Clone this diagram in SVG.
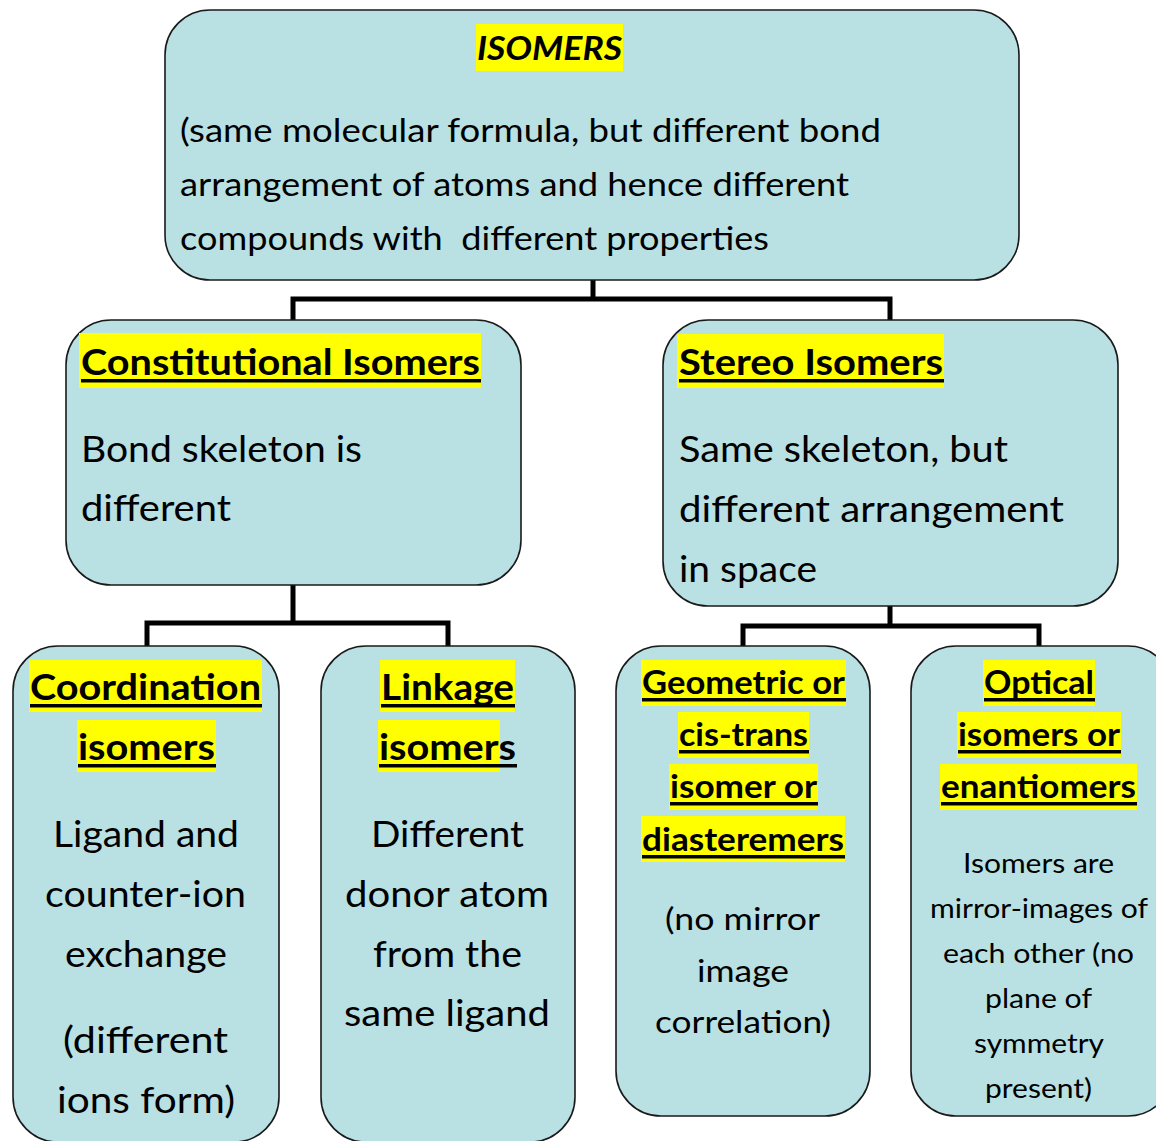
<svg xmlns="http://www.w3.org/2000/svg" width="1156" height="1141" viewBox="0 0 1156 1141">
<style>
.box{fill:#b9e0e3;stroke:#1a1a1a;stroke-width:1.6}
.conn{fill:none;stroke:#000;stroke-width:5}
.hl{fill:#ffff00}
.ul{fill:#000}
text{font-family:Lato,"Open Sans","Liberation Sans",sans-serif;fill:#000}
.b{font-weight:bold}
.bi{font-weight:bold;font-style:italic}
.pre{white-space:pre}
</style>
<rect width="1156" height="1141" fill="#fff"/>
<g id="connectors">
<path class="conn" d="M593,280 V299 M293,320 V299 H890 V320"/>
<path class="conn" d="M293,585 V623 M147,646 V623 H448 V646"/>
<path class="conn" d="M890,606 V626 M743,646 V626 H1039 V646"/>
</g>
<g id="isomers">
<rect class="box" x="165" y="10" width="854" height="270" rx="45"/>
<rect class="hl" x="476" y="24" width="147" height="47"/>
<text class="bi" x="477" y="60" font-size="32" textLength="145" lengthAdjust="spacingAndGlyphs">ISOMERS</text>
<text x="180" y="142" font-size="33" textLength="701" lengthAdjust="spacingAndGlyphs">(same molecular formula, but different bond</text>
<text x="180" y="196" font-size="33" textLength="669" lengthAdjust="spacingAndGlyphs">arrangement of atoms and hence different</text>
<text class="pre" x="180" y="250" font-size="33" textLength="589" lengthAdjust="spacingAndGlyphs" xml:space="preserve">compounds with  different properties</text>
</g>
<g id="constitutional">
<rect class="box" x="66" y="320" width="455" height="265" rx="45"/>
<rect class="hl" x="79" y="333" width="402" height="55"/>
<text class="b" x="81" y="375" font-size="37" textLength="399" lengthAdjust="spacingAndGlyphs">Constitutional Isomers</text>
<rect class="ul" x="81" y="379" width="400" height="3.5"/>
<text x="81" y="462" font-size="37" textLength="281" lengthAdjust="spacingAndGlyphs">Bond skeleton is</text>
<text x="81" y="521" font-size="37" textLength="150" lengthAdjust="spacingAndGlyphs">different</text>
</g>
<g id="stereo">
<rect class="box" x="663" y="320" width="455" height="286" rx="45"/>
<rect class="hl" x="677" y="334" width="267" height="54"/>
<text class="b" x="679" y="375" font-size="37" textLength="264" lengthAdjust="spacingAndGlyphs">Stereo Isomers</text>
<rect class="ul" x="679" y="379" width="265" height="3.5"/>
<text x="679" y="462" font-size="37" textLength="329" lengthAdjust="spacingAndGlyphs">Same skeleton, but</text>
<text x="679" y="522" font-size="37" textLength="385" lengthAdjust="spacingAndGlyphs">different arrangement</text>
<text x="679" y="582" font-size="37" textLength="138" lengthAdjust="spacingAndGlyphs">in space</text>
</g>
<g id="coordination">
<rect class="box" x="13" y="646" width="266" height="496" rx="45"/>
<rect class="hl" x="29" y="660" width="233" height="52"/>
<text class="b" x="30" y="700" font-size="37" textLength="231" lengthAdjust="spacingAndGlyphs">Coordination</text>
<rect class="ul" x="30" y="704" width="232" height="3.5"/>
<rect class="hl" x="77" y="720" width="139" height="52"/>
<text class="b" x="78" y="760" font-size="37" textLength="137" lengthAdjust="spacingAndGlyphs">isomers</text>
<rect class="ul" x="78" y="764" width="138" height="3.5"/>
<text x="53" y="847" font-size="37" textLength="186" lengthAdjust="spacingAndGlyphs">Ligand and</text>
<text x="45" y="907" font-size="37" textLength="201" lengthAdjust="spacingAndGlyphs">counter-ion</text>
<text x="65" y="967" font-size="37" textLength="162" lengthAdjust="spacingAndGlyphs">exchange</text>
<text x="63" y="1053" font-size="37" textLength="165" lengthAdjust="spacingAndGlyphs">(different</text>
<text x="57" y="1113" font-size="37" textLength="178" lengthAdjust="spacingAndGlyphs">ions form)</text>
</g>
<g id="linkage">
<rect class="box" x="321" y="646" width="254" height="496" rx="45"/>
<rect class="hl" x="380" y="660" width="135" height="52"/>
<text class="b" x="381" y="700" font-size="37" textLength="133" lengthAdjust="spacingAndGlyphs">Linkage</text>
<rect class="ul" x="381" y="704" width="134" height="3.5"/>
<rect class="hl" x="378" y="720" width="122" height="52"/>
<text class="b" x="379" y="760" font-size="37" textLength="137" lengthAdjust="spacingAndGlyphs">isomers</text>
<rect class="ul" x="379" y="764" width="138" height="3.5"/>
<text x="371" y="847" font-size="37" textLength="153" lengthAdjust="spacingAndGlyphs">Different</text>
<text x="345" y="907" font-size="37" textLength="204" lengthAdjust="spacingAndGlyphs">donor atom</text>
<text x="373" y="967" font-size="37" textLength="149" lengthAdjust="spacingAndGlyphs">from the</text>
<text x="344" y="1026" font-size="37" textLength="206" lengthAdjust="spacingAndGlyphs">same ligand</text>
</g>
<g id="geometric">
<rect class="box" x="616" y="646" width="254" height="470" rx="45"/>
<rect class="hl" x="641" y="660" width="205" height="46"/>
<text class="b" x="642" y="694" font-size="32" textLength="203" lengthAdjust="spacingAndGlyphs">Geometric or</text>
<rect class="ul" x="642" y="698" width="204" height="3.5"/>
<rect class="hl" x="678" y="712" width="131" height="46"/>
<text class="b" x="679" y="746" font-size="32" textLength="129" lengthAdjust="spacingAndGlyphs">cis-trans</text>
<rect class="ul" x="679" y="750" width="130" height="3.5"/>
<rect class="hl" x="669" y="764" width="149" height="46"/>
<text class="b" x="670" y="798" font-size="32" textLength="147" lengthAdjust="spacingAndGlyphs">isomer or</text>
<rect class="ul" x="670" y="802" width="148" height="3.5"/>
<rect class="hl" x="641" y="816" width="204" height="46"/>
<text class="b" x="642" y="851" font-size="32" textLength="202" lengthAdjust="spacingAndGlyphs">diasteremers</text>
<rect class="ul" x="642" y="855" width="203" height="3.5"/>
<text x="665" y="930" font-size="30" textLength="155" lengthAdjust="spacingAndGlyphs">(no mirror</text>
<text x="697" y="982" font-size="30" textLength="92" lengthAdjust="spacingAndGlyphs">image</text>
<text x="655" y="1033" font-size="30" textLength="176" lengthAdjust="spacingAndGlyphs">correlation)</text>
</g>
<g id="optical">
<rect class="box" x="911" y="646" width="262" height="470" rx="45"/>
<rect class="hl" x="983" y="660" width="112" height="46"/>
<text class="b" x="984" y="694" font-size="32" textLength="110" lengthAdjust="spacingAndGlyphs">Optical</text>
<rect class="ul" x="984" y="698" width="111" height="3.5"/>
<rect class="hl" x="957" y="712" width="164" height="46"/>
<text class="b" x="958" y="746" font-size="32" textLength="162" lengthAdjust="spacingAndGlyphs">isomers or</text>
<rect class="ul" x="958" y="750" width="163" height="3.5"/>
<rect class="hl" x="940" y="764" width="197" height="46"/>
<text class="b" x="941" y="798" font-size="32" textLength="195" lengthAdjust="spacingAndGlyphs">enantiomers</text>
<rect class="ul" x="941" y="802" width="196" height="3.5"/>
<text x="963" y="873" font-size="26" textLength="151" lengthAdjust="spacingAndGlyphs">Isomers are</text>
<text x="930" y="918" font-size="26" textLength="218" lengthAdjust="spacingAndGlyphs">mirror-images of</text>
<text x="943" y="963" font-size="26" textLength="191" lengthAdjust="spacingAndGlyphs">each other (no</text>
<text x="985" y="1008" font-size="26" textLength="107" lengthAdjust="spacingAndGlyphs">plane of</text>
<text x="974" y="1053" font-size="26" textLength="130" lengthAdjust="spacingAndGlyphs">symmetry</text>
<text x="985" y="1098" font-size="26" textLength="107" lengthAdjust="spacingAndGlyphs">present)</text>
</g>
</svg>
